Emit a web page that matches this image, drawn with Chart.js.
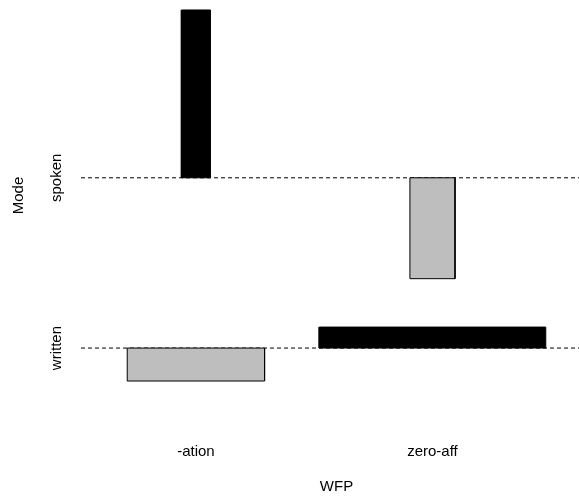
<!DOCTYPE html>
<html lang="en">
<head>
  <meta charset="UTF-8" />
  <title>Association plot - Mode by WFP</title>
  <script src="https://cdn.jsdelivr.net/npm/chart.js"></script>
  <style>
    body { margin: 0; background: #fff; }
    /* the original figure is cropped on the top and right, so the canvas is a bit bigger than the window */
    #wrap { width: 579px; height: 497px; overflow: hidden; position: relative; }
    #assoc { display: block; position: absolute; left: 0; top: -31px; }
  </style>
</head>
<body>
<div id="wrap"><canvas id="assoc" width="592" height="528"></canvas></div>
<script>
  // categories
  const wfp = ['-ation', 'zero-aff'];
  const modes = ['written', 'spoken']; // bottom row first

  // sqrt(expected) for each cell -> bar widths  [written, spoken]
  const sqrtExpAtion = [137, 29];
  const sqrtExpZeroAff = [226, 45];
  // Pearson residuals for each cell -> bar heights  [written, spoken]
  const residAtion = [-33, 168];
  const residZeroAff = [21, -101];

  // same layout rules as R's assocplot()
  const f = [sqrtExpAtion, sqrtExpZeroAff];
  const d = [residAtion, residZeroAff];
  const space = 0.3;
  const mean = a => a.reduce((s, v) => s + v, 0) / a.length;
  const sum = a => a.reduce((s, v) => s + v, 0);

  const xw = f.map(r => Math.max(...r));
  const yh = modes.map((_, j) => Math.max(...d.map(r => r[j])) - Math.min(...d.map(r => r[j])));
  const xDelta = mean(xw) * space;
  const yDelta = mean(yh) * space;
  const xLim = sum(xw) + wfp.length * xDelta;
  const yLim = sum(yh) + modes.length * yDelta;

  let acc = 0;
  const xr = xw.map(w => (acc += w + xDelta));
  const xm = xr.map((r, i) => ((i ? xr[i - 1] : 0) + r) / 2);
  acc = 0;
  const yu = yh.map(h => (acc += h + yDelta));
  const ym = yu.map((u, j) => u - Math.max(0, ...d.map(r => r[j])) - yDelta / 2);

  // R pads each range by 4%
  const xMin = -0.04 * xLim, xMax = 1.04 * xLim;
  const yMin = -0.04 * yLim, yMax = 1.04 * yLim;

  const datasets = [];
  wfp.forEach((w, i) => {
    modes.forEach((m, j) => {
      const x0 = xm[i] - f[i][j] / 2, x1 = xm[i] + f[i][j] / 2;
      const y0 = ym[j], y1 = ym[j] + d[i][j];
      datasets.push({
        label: w + ' / ' + m,
        data: [{x: x0, y: y0}, {x: x1, y: y0}, {x: x1, y: y1}, {x: x0, y: y1}, {x: x0, y: y0}],
        showLine: true,
        fill: 'shape',
        backgroundColor: d[i][j] > 0 ? '#000000' : '#bebebe',
        borderColor: '#000000',
        borderWidth: 1,
        pointRadius: 0,
        tension: 0
      });
    });
  });
  // dashed baselines, drawn last so they sit underneath
  modes.forEach((m, j) => {
    datasets.push({
      label: m + ' baseline',
      data: [{x: xMin, y: ym[j]}, {x: xMax, y: ym[j]}],
      showLine: true,
      fill: false,
      borderColor: '#000000',
      borderWidth: 1,
      borderDash: [4, 3],
      pointRadius: 0
    });
  });

  const font = { family: 'Liberation Sans, Arial, sans-serif', size: 15 };

  new Chart(document.getElementById('assoc'), {
    type: 'scatter',
    data: { datasets },
    options: {
      responsive: false,
      animation: false,
      devicePixelRatio: 1,
      layout: { padding: 0 },
      plugins: { legend: { display: false }, tooltip: { enabled: false } },
      scales: {
        x: {
          type: 'linear',
          min: xMin,
          max: xMax,
          grid: { display: false, drawTicks: false },
          border: { display: false },
          afterBuildTicks: s => { s.ticks = xm.map(v => ({ value: v })); },
          afterFit: s => { s.height = 75; s.paddingLeft = 0; s.paddingRight = 0; },
          ticks: {
            font, color: '#000', padding: 21, autoSkip: false, maxRotation: 0,
            callback: (v, i) => wfp[i]
          },
          title: { display: true, text: 'WFP', font, color: '#000', padding: { top: 0, bottom: 1 } }
        },
        y: {
          type: 'linear',
          min: yMin,
          max: yMax,
          grid: { display: false, drawTicks: false },
          border: { display: false },
          afterBuildTicks: s => { s.ticks = ym.map(v => ({ value: v })); },
          afterFit: s => { s.width = 81; s.paddingTop = 0; s.paddingBottom = 0; },
          ticks: {
            font, color: '#000', padding: 0, autoSkip: false,
            minRotation: 90, maxRotation: 90, crossAlign: 'center',
            callback: (v, i) => modes[i]
          },
          title: { display: true, text: 'Mode', font, color: '#000', padding: { top: 10, bottom: 0 } }
        }
      }
    }
  });
</script>
</body>
</html>
